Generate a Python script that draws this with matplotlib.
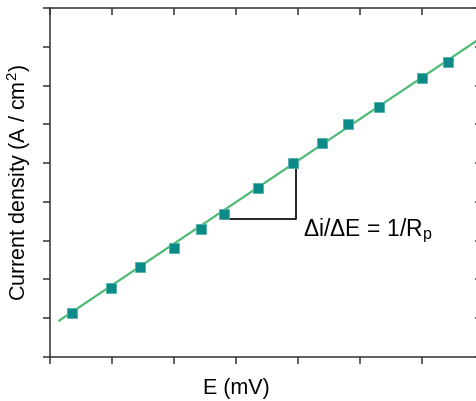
import matplotlib
matplotlib.use('Agg')
import matplotlib.pyplot as plt
import numpy as np

plt.rcParams['font.family'] = ['Liberation Sans', 'DejaVu Sans']
plt.rcParams['mathtext.default'] = 'regular'

# measured points (arbitrary units, axes run 0..7 by 0..9)
potential = [0.35, 0.99, 1.45, 2.00, 2.44, 2.80, 3.35, 3.91, 4.39, 4.80, 5.30, 5.99, 6.42]
current = [1.14, 1.79, 2.31, 2.81, 3.30, 3.70, 4.36, 5.01, 5.52, 6.00, 6.44, 7.20, 7.60]

# linear fit endpoints
fit_x = [0.15, 7.0]
fit_y = [0.94, 8.29]

# slope triangle corners
tri_x = [2.79, 3.97, 3.97]
tri_y = [3.55, 3.55, 5.02]

x_ticks = [0, 1, 2, 3, 4, 5, 6]
y_ticks = [0, 1, 2, 3, 4, 5, 6, 7, 8, 9]
x_max = 6.96

frame = '#333333'

fig = plt.figure(figsize=(4.77, 4.01), dpi=100)
ax = fig.add_axes([50 / 477, 44 / 401, 432 / 477, 349 / 401])

ax.plot(fit_x, fit_y, color='#4cbb74', lw=1.6, zorder=2)
ax.plot(potential, current, 's', ms=7.2, mfc='#0b8a87', mec='#4fb3aa', mew=0.6, zorder=3)
ax.plot(tri_x, tri_y, color='black', lw=1.2, zorder=1)
ax.text(4.08, 3.12, 'Δi/ΔE = 1/R$_{p}$', fontsize=16.5, va='baseline', ha='left')

ax.set_xlim(0, x_max)
ax.set_ylim(0, 9)
ax.set_xticks(x_ticks)
ax.set_yticks(y_ticks)
ax.set_xticklabels([])
ax.set_yticklabels([])

for s in ax.spines.values():
    s.set_color(frame)
    s.set_linewidth(1.1)

ax.tick_params(color=frame, width=1.1, direction='out', length=5)

# inward ticks on the top and right frame, drawn as tick markers
ax.plot(x_ticks, [1] * len(x_ticks), transform=ax.get_xaxis_transform(),
        ls='none', marker=3, ms=5, mew=1.1, color=frame, clip_on=False, zorder=4)
ax.plot([1] * len(y_ticks), y_ticks, transform=ax.get_yaxis_transform(),
        ls='none', marker=0, ms=5, mew=1.1, color=frame, clip_on=False, zorder=4)

ax.set_xlabel('E (mV)', fontsize=15.5)
ax.set_ylabel('Current density (A / cm$^2$)', fontsize=15.5)
ax.xaxis.set_label_coords(0.432, -0.06)
ax.yaxis.set_label_coords(-0.04, 0.5)

fig.savefig('out.png', dpi=100)
